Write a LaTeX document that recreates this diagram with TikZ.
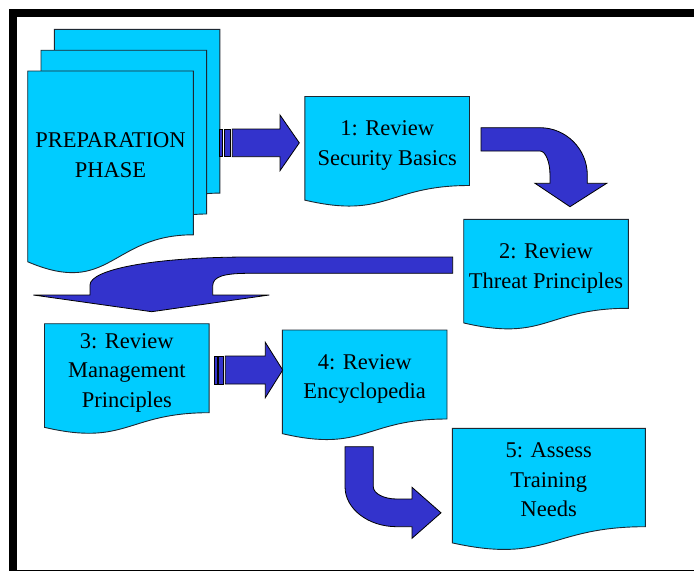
\documentclass[tikz,border=0pt]{standalone}
\usepackage{fontspec}
\setmainfont{Liberation Serif}
\usetikzlibrary{calc,backgrounds}
\definecolor{pagecyan}{RGB}{0,204,255}
\definecolor{arrowblue}{RGB}{51,51,204}
\definecolor{pageedge}{RGB}{30,40,50}
\newcommand{\lnstrut}{\rule[-5.25pt]{0pt}{29.5pt}}
\tikzset{
  page/.style={fill=pagecyan, draw=pageedge, line width=0.9pt},
  blockarrow/.style={fill=arrowblue, draw=black, line width=0.8pt},
  stepbox/.style={minimum width=164.6pt, minimum height=89pt, inner sep=0pt,
    outer sep=0pt, align=center, font=\fontsize{22.5}{29.5}\selectfont},
  prepbox/.style={stepbox, minimum width=165.6pt, minimum height=163.8pt},
}
\begin{document}
\begin{tikzpicture}[x=1pt,y=-1pt]
  \useasboundingbox (0,0) rectangle (694,571);
  \fill (9,9) rectangle (694,17);
  \fill (9,9) rectangle (17,570.5);
  \draw[line width=1pt] (9,570) -- (694,570);

  \node[prepbox] (prepC) at (137.1,111.2) {};
  \node[prepbox] (prepB) at (123.8,132.1) {};
  \node[prepbox] (prep) at (110.5,152.9) {\lnstrut PREPARATION\\\lnstrut PHASE};
  \node[stepbox] (step1) at (387.2,141) {\lnstrut 1: Review\\\lnstrut Security Basics};
  \node[stepbox] (step2) at (546,263.8) {\lnstrut 2: Review\\\lnstrut Threat Principles};
  \node[stepbox] (step3) at (126.8,368.2) {\lnstrut 3: Review\\\lnstrut Management\\\lnstrut Principles};
  \node[stepbox] (step4) at (364.7,374.5) {\lnstrut 4: Review\\\lnstrut Encyclopedia};
  \node[stepbox, minimum width=193pt, minimum height=98.4pt] (step5) at (548.8,477.5)
    {\lnstrut 5: Assess\\\lnstrut Training\\\lnstrut Needs};

  \begin{scope}[on background layer]
    \foreach \n in {prepC,prepB,prep,step1,step2,step3,step4,step5}
      \draw[page] (\n.north west) -- (\n.north east) -- (\n.south east)
        .. controls (\n.south) and ($(\n.south)!-0.381!(\n.north)$)
        .. ($(\n.south west)!-0.1646!(\n.north west)$) -- cycle;
  \end{scope}

  \draw[blockarrow] (219.7,129) rectangle (222.5,156.7);
  \draw[blockarrow] (224.3,129) rectangle (230.7,156.7);
  \draw[blockarrow] (232.3,129) -- (280,129) -- (280,115) -- (299.3,142.85)
    -- (280,170.7) -- (280,156.7) -- (232.3,156.7) -- cycle;

  \draw[blockarrow] (481,127.7) -- (540,127.7) .. controls (566,127.7) and (587.3,149) .. (587.3,175)
    -- (587.3,183.3) -- (606.7,183.3) -- (570,206.7) -- (535,183.3) -- (550,183.3) -- (550,175)
    .. controls (550,161.8) and (545.5,151) .. (540,151) -- (481,151) -- cycle;

  \draw[blockarrow] (452.7,257) -- (250,257) .. controls (150,257) and (90,270) .. (90,285)
    -- (90,295) -- (33.3,295) -- (151.7,311.7) -- (269.3,295) -- (212.7,295) -- (212.7,286)
    .. controls (212.7,276) and (225,273.3) .. (250,273.3) -- (452.7,273.3) -- cycle;

  \draw[blockarrow] (214.3,356) rectangle (217,384);
  \draw[blockarrow] (218.7,356) rectangle (223.3,384);
  \draw[blockarrow] (225.3,356) -- (265.3,356) -- (265.3,342.3) -- (282.7,370)
    -- (265.3,397.7) -- (265.3,384) -- (225.3,384) -- cycle;

  \draw[blockarrow] (345,446.7) -- (373.3,446.7) -- (373.3,486.7)
    .. controls (373.3,493.5) and (383.8,499) .. (396.7,499) -- (412,499) -- (412,487.3)
    -- (441,512.8) -- (412,538.3) -- (412,526.7) -- (396.7,526.7)
    .. controls (368.2,526.7) and (345,508.8) .. (345,486.7) -- cycle;
\end{tikzpicture}
\end{document}
